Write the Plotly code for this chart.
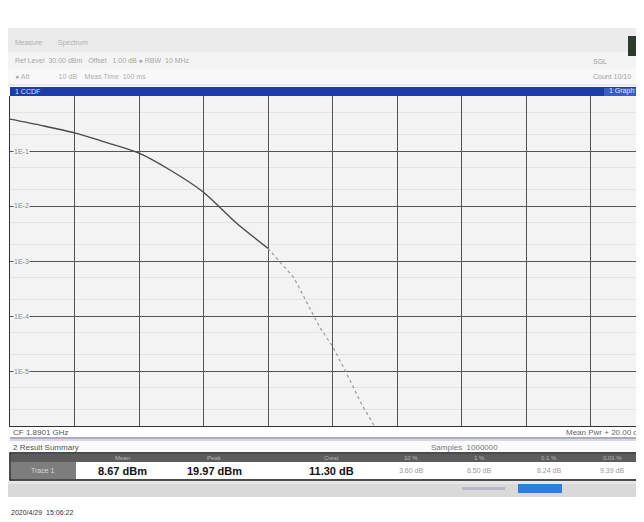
import plotly.graph_objects as go

# page body has an 8px margin, so the figure is drawn 8px smaller and shifted
OFF = 8
W, H = 644 - OFF, 522 - OFF

# ---- data ----
ccdf_db = [0, 1, 2, 3, 4, 5, 6, 7, 8, 8.8, 9.2, 9.6, 10.0, 10.4, 10.9, 11.3]
ccdf_prob = [0.380, 0.290, 0.214, 0.142, 0.0912, 0.0437, 0.0178, 0.0050, 0.0017,
             5.0e-4, 1.78e-4, 6.3e-5, 2.8e-5, 1.0e-5, 2.5e-6, 1.0e-6]
y_tick_vals = [1e-1, 1e-2, 1e-3, 1e-4, 1e-5]
y_tick_text = ["1E-1", "1E-2", "1E-3", "1E-4", "1E-5"]
sum_headers = ["Mean", "Peak", "Crest", "10 %", "1 %", "0.1 %", "0.01 %"]
sum_values = ["8.67 dBm", "19.97 dBm", "11.30 dB", "3.60 dB", "6.50 dB", "8.24 dB", "9.39 dB"]
FONT = "Liberation Sans"


def X(px):
    return min(1.0, max(0.0, (px - OFF) / W))


def Y(py):
    return min(1.0, max(0.0, 1 - (py - OFF) / H))


fig = go.Figure()
split = 8
fig.add_trace(go.Scatter(x=ccdf_db[:split + 1], y=ccdf_prob[:split + 1], mode="lines",
                         line=dict(color="#4a4a4a", width=1.4, shape="spline", smoothing=0.8),
                         showlegend=False))
fig.add_trace(go.Scatter(x=ccdf_db[split:], y=ccdf_prob[split:], mode="lines",
                         line=dict(color="#9a9a9a", width=1.2, dash="dot"), showlegend=False))

shapes = []
ann = []


def rect(x0, y0, x1, y1, fill, line=None, lw=0):
    shapes.append(dict(type="rect", xref="paper", yref="paper", x0=X(x0), x1=X(x1), y0=Y(y1), y1=Y(y0),
                       fillcolor=fill, line=dict(color=line or fill, width=lw), layer="below"))


def hline(x0, x1, y, color, w=1):
    shapes.append(dict(type="line", xref="paper", yref="paper", x0=X(x0), x1=X(x1), y0=Y(y), y1=Y(y),
                       line=dict(color=color, width=w)))


def text(px, py, s, size=8, color="#9a9a9a", anchor="left", bold=False, bg=None):
    if bold:
        s = "<b>" + s + "</b>"
    ann.append(dict(xref="paper", yref="paper", x=X(px), y=Y(py), text=s, showarrow=False,
                    xanchor=anchor, yanchor="middle", font=dict(family=FONT, size=size, color=color),
                    bgcolor=bg, borderpad=0))


# header bands
rect(0, 28, 644, 52, "#ebebeb")
rect(0, 52, 644, 69, "#f4f4f4")
rect(0, 69, 644, 86, "#f8f8f8")
hline(0, 644, 85, "#d8d8e8", 1)
rect(628, 36, 644, 56, "#2c3a32")
text(14, 43, "Measure        Spectrum", 7, "#b0b0b0")
text(14, 61, "Ref Level  30.00 dBm   Offset   1.00 dB \u25cf RBW  10 MHz", 7, "#a8a8a8")
text(14, 77, "\u25cf Att               10 dB    Meas Time  100 ms", 7, "#b0b0b0")
text(592, 62, "SGL", 7, "#9a9a9a")
text(592, 77, "Count 10/10", 7, "#a0a0a0")

# blue window title bar
rect(10, 87, 644, 96, "#1c3cab")
rect(604, 88, 644, 96, "#3a5cc8")
text(14, 91.5, "1 CCDF", 7, "#dfe4ff")
text(608, 91.5, "1 Graph", 7, "#dfe4ff")

# y-axis labels inside the plot
for v, t, py in zip(y_tick_vals, y_tick_text, [151, 206, 261, 316, 371]):
    text(13, py, t, 7, "#8a8a8a", bg="#f3f3f3")

# below the diagram
rect(10, 426, 644, 437, "#ffffff")
text(12, 432, "CF 1.8901 GHz", 8, "#555555")
text(644, 432, "Mean Pwr + 20.00 dB", 8, "#666666", anchor="right")
hline(10, 644, 438, "#5a5a8a", 1.2)
hline(10, 644, 440, "#9a9ac0", 0.8)
rect(10, 441, 644, 453, "#fbfbfb")
text(12, 447, "2 Result Summary", 8, "#555555")
text(430, 447, "Samples  1000000", 8, "#777777")

# summary table
rect(10, 453, 644, 480, "#ffffff", "#111111", 1.5)
rect(11, 454, 644, 462, "#5c5c5c")
rect(11, 462, 76, 479, "#7d7d7d")
text(43, 470.5, "Trace 1", 7, "#d8d8d8", anchor="center")
hdr_x = [123, 214, 331, 411, 479, 549, 612]
for hx, h, v, i in zip(hdr_x, sum_headers, sum_values, range(len(sum_values))):
    text(hx, 458, h, 6, "#b8b8b8", anchor="center")
    if i < 3:
        text(hx, 470.5, v, 11, "#111111", anchor="center", bold=True)
    else:
        text(hx, 470.5, v, 7, "#9a9a9a", anchor="center")

# bottom status bar
rect(0, 481, 644, 497, "#d9d9d9")
rect(0, 481, 644, 484, "#e6e6e6")
rect(518, 484, 562, 493, "#2f7fd6")
rect(462, 487, 505, 490, "#b8b8c8")
text(10, 512, "2020/4/29  15:06:22", 7, "#333333")

fig.update_layout(
    width=W, height=H, margin=dict(l=0, r=0, t=0, b=0),
    paper_bgcolor="#ffffff", plot_bgcolor="#f3f3f3",
    shapes=shapes, annotations=ann,
    xaxis=dict(domain=[X(10), 1], range=[0, (644 - 10) / 32.25], dtick=2, tick0=0,
               showgrid=True, gridcolor="#555555", gridwidth=1, showticklabels=False,
               zeroline=False, showline=True, linecolor="#333333", mirror=False, ticks=""),
    yaxis=dict(domain=[Y(426), Y(96)], type="log", range=[-6, 0], dtick=1,
               showgrid=True, gridcolor="#555555", gridwidth=1, showticklabels=False,
               zeroline=False, showline=True, linecolor="#333333", mirror=True, ticks="",
               minor=dict(showgrid=True, gridcolor="#e3e3e3", dtick="D2")),
    showlegend=False,
)

fig.write_html("out.html")
